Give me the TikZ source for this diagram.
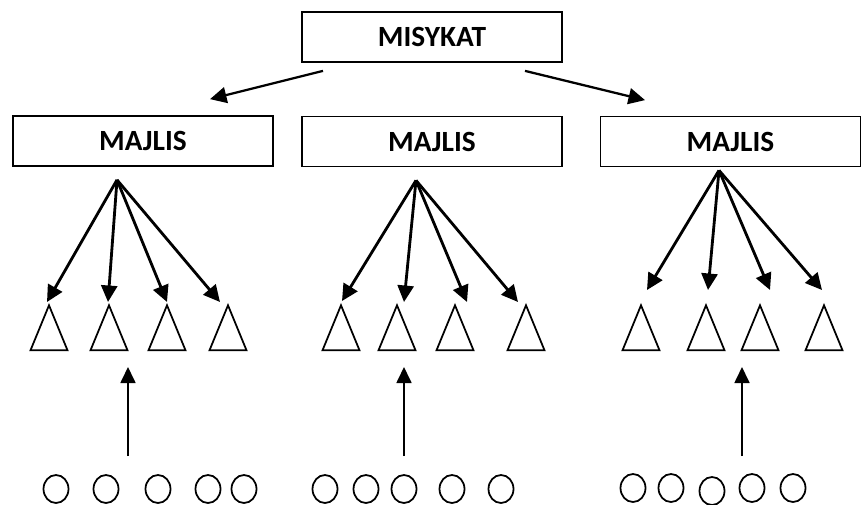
\documentclass[tikz,border=0pt]{standalone}
\usepackage{fontspec}
\setmainfont{Carlito}
\usetikzlibrary{shapes.geometric, arrows.meta, positioning}

\begin{document}
\begin{tikzpicture}[
    x=0.2mm, y=-0.2mm,
    box/.style={draw, line width=1pt, minimum width=52mm, minimum height=10mm, font=\fontsize{16.7}{19}\selectfont\bfseries},
    tri/.style={draw, isosceles triangle, shape border rotate=90, isosceles triangle stretches, minimum width=7.4mm, minimum height=9mm, inner sep=0pt, line width=1pt, anchor=apex},
    dot/.style={draw, ellipse, minimum width=5mm, minimum height=5.6mm, inner sep=0pt, line width=1pt},
    arr/.style={-{Triangle[length=3.3mm, width=3.2mm]}, line width=1.6pt},
    uparr/.style={-{Triangle[length=3.2mm, width=3mm]}, line width=1pt}
]
\useasboundingbox (0,0) rectangle (863,504);

% Kotak atas dan majlis
\node[box] (misykat) at (432,37) {MISYKAT};
\node[box] (maj1) at (143,141) {MAJLIS};
\node[box] (maj2) at (432,141.5) {MAJLIS};
\node[box] (maj3) at (730.5,141.5) {MAJLIS};

% Misykat -> majlis
\draw[arr, line width=1.3pt] ([shift={(-109,8)}]misykat.south) -- ([shift={(67,-16)}]maj1.north);
\draw[arr, line width=1.3pt] ([shift={(93,8)}]misykat.south) -- ([shift={(-85.5,-15.5)}]maj3.north);

% Titik mula kipas
\coordinate (f1) at ([shift={(-26,13)}]maj1.south);
\coordinate (f2) at ([shift={(-16,13)}]maj2.south);
\coordinate (f3) at ([shift={(-11.5,3)}]maj3.south);

% Segitiga
\node[tri] (t11) at (49,303) {};
\node[tri] (t12) at (109,303) {};
\node[tri] (t13) at (167,303) {};
\node[tri] (t14) at (228,303) {};
\node[tri] (t21) at (341,303) {};
\node[tri] (t22) at (397,303) {};
\node[tri] (t23) at (455,303) {};
\node[tri] (t24) at (526,303) {};
\node[tri] (t31) at (641,303) {};
\node[tri] (t32) at (706,303) {};
\node[tri] (t33) at (760,303) {};
\node[tri] (t34) at (824,303) {};

% Majlis -> segitiga
\draw[arr] (f1) -- ([shift={(-2,-1)}]t11.apex);
\draw[arr] (f1) -- ([shift={(-1,-1)}]t12.apex);
\draw[arr] (f1) -- ([shift={(0,-1)}]t13.apex);
\draw[arr] (f1) -- ([shift={(-8,-1)}]t14.apex);
\draw[arr] (f2) -- ([shift={(1,-2)}]t21.apex);
\draw[arr] (f2) -- ([shift={(7,-1)}]t22.apex);
\draw[arr] (f2) -- ([shift={(12,-1)}]t23.apex);
\draw[arr] (f2) -- ([shift={(-8,-1)}]t24.apex);
\draw[arr] (f3) -- ([shift={(6,-13)}]t31.apex);
\draw[arr] (f3) -- ([shift={(2,-13)}]t32.apex);
\draw[arr] (f3) -- ([shift={(10,-13)}]t33.apex);
\draw[arr] (f3) -- ([shift={(-2,-13)}]t34.apex);

% Bulatan
\node[dot] (c11) at (56,489) {};
\node[dot] (c12) at (106,489) {};
\node[dot] (c13) at (158,489) {};
\node[dot] (c14) at (208,489) {};
\node[dot] (c15) at (244,489) {};
\node[dot] (c21) at (325,489) {};
\node[dot] (c22) at (366,489) {};
\node[dot] (c23) at (404,489) {};
\node[dot] (c24) at (452,489) {};
\node[dot] (c25) at (501,489) {};
\node[dot] (c31) at (633,488) {};
\node[dot] (c32) at (671,488) {};
\node[dot] (c33) at (712,491) {};
\node[dot] (c34) at (752,488) {};
\node[dot] (c35) at (793,488) {};

% Anak panah ke atas
\coordinate (u1a) at (128,456);
\coordinate (u1b) at (128,367);
\coordinate (u2a) at (404,456);
\coordinate (u2b) at (404,367);
\coordinate (u3a) at (742,456);
\coordinate (u3b) at (742,367);
\draw[uparr] (u1a) -- (u1b);
\draw[uparr] (u2a) -- (u2b);
\draw[uparr] (u3a) -- (u3b);

\end{tikzpicture}
\end{document}
